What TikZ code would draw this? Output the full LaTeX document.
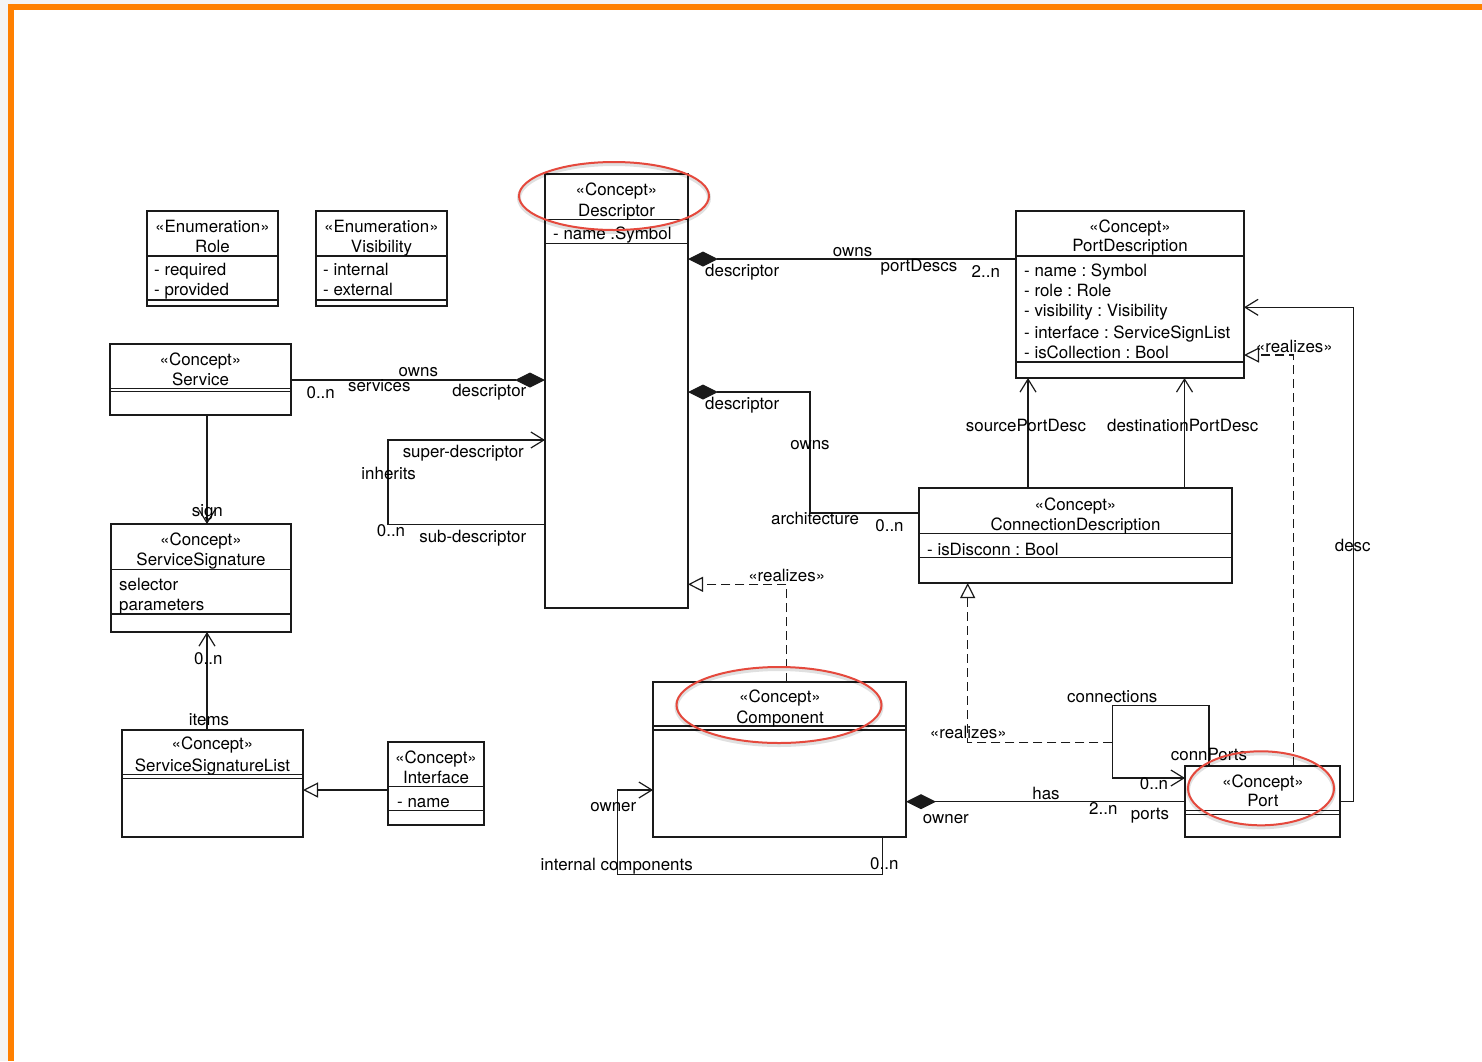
\documentclass[tikz,border=0pt]{standalone}
\usepackage{fontspec}
\setmainfont{TeX Gyre Heros}
\usetikzlibrary{arrows.meta}
\definecolor{orangeb}{HTML}{FF8000}
\definecolor{grayb}{HTML}{F4F4F4}
\definecolor{ered}{HTML}{E5493D}
\definecolor{ink}{HTML}{1A1A1A}
\frenchspacing
\begin{document}
\begin{tikzpicture}[x=1pt,y=-1pt,
  every node/.style={font=\fontsize{16.9}{20}\selectfont\frenchspacing, text=black},
  box/.style={draw=ink, line width=1.2pt, anchor=north west, inner sep=0pt, outer sep=0pt},
  divl/.style={draw=ink, line width=1.2pt},
  t/.style={inner sep=0pt, anchor=mid, yshift=-3.3pt},
  tl/.style={inner sep=0pt, anchor=mid west, yshift=-3.3pt},
  conn/.style={draw=ink, line width=1.2pt},
  rdashed/.style={conn, dash pattern=on 9pt off 5pt},
  openarr/.style={-{Straight Barb[length=13pt,width=16pt]}},
  gen/.style={-{Triangle[open,length=15pt,width=15pt,fill=white]}},
  compo/.style={{Diamond[length=30pt,width=15pt,fill=ink]}-},
  hl/.style={draw=ered, line width=2pt},
  hlshadow/.style={draw=black, opacity=0.12, line width=4pt},
]
\useasboundingbox (0,0) rectangle (1482,1061);
% background and frame
\fill[white] (0,0) rectangle (1482,1061);
\fill[grayb] (0,0) rectangle (8,1061);
\fill[grayb] (0,0) rectangle (1482,4);
\fill[orangeb] (8,4) rectangle (14,1061);
\fill[orangeb] (8,4) rectangle (1482,10);

% ---------- Role
\node[box, minimum width=131pt, minimum height=95pt] (role) at (147,211) {};
\draw[divl] (147,256) -- (278,256);
\draw[divl] (147,300) -- (278,300);
\node[t] (roleS) at (212.5,226.7) {«Enumeration»};
\node[t] (roleN) at (212.5,246.7) {Role};
\node[tl] (roleA) at (154,270) {- required};
\node[tl] (roleB) at (154,290) {- provided};

% ---------- Visibility
\node[box, minimum width=131pt, minimum height=95pt] (vis) at (316,211) {};
\draw[divl] (316,256) -- (447,256);
\draw[divl] (316,300) -- (447,300);
\node[t] (visS) at (381.5,226.7) {«Enumeration»};
\node[t] (visN) at (381.5,246.7) {Visibility};
\node[tl] (visA) at (323,270) {- internal};
\node[tl] (visB) at (323,290) {- external};

% ---------- Service
\node[box, minimum width=181pt, minimum height=71pt] (serv) at (110,344) {};
\draw[divl] (110,388.3) -- (291,388.3);
\draw[divl] (110,391.7) -- (291,391.7);
\node[t] (servS) at (200.5,359.3) {«Concept»};
\node[t] (servN) at (200.5,379.3) {Service};

% ---------- Descriptor
\node[box, minimum width=143pt, minimum height=434pt] (desc) at (545,174) {};
\draw[divl] (545,219.3) -- (688,219.3);
\draw[divl] (545,243.3) -- (688,243.3);
\node[t] (descS) at (616.5,190) {«Concept»};
\node[t] (descN) at (616.5,210.7) {Descriptor};
\node[tl] (descA) at (553,234) {- name .Symbol};

% ---------- PortDescription
\node[box, minimum width=228pt, minimum height=167pt] (pd) at (1016,211) {};
\draw[divl] (1016,256) -- (1244,256);
\draw[divl] (1016,362) -- (1244,362);
\node[t] (pdS) at (1130,226.7) {«Concept»};
\node[t] (pdN) at (1130,246) {PortDescription};
\node[tl] (pdA) at (1024,270.7) {- name : Symbol};
\node[tl] (pdB) at (1024,291) {- role : Role};
\node[tl] (pdC) at (1024,311) {- visibility : Visibility};
\node[tl] (pdD) at (1024,332.3) {- interface : ServiceSignList};
\node[tl] (pdE) at (1024,352.3) {- isCollection : Bool};

% ---------- ConnectionDescription
\node[box, minimum width=313pt, minimum height=95pt] (cd) at (919,488) {};
\draw[divl] (919,533.3) -- (1232,533.3);
\draw[divl] (919,557.7) -- (1232,557.7);
\node[t] (cdS) at (1075.5,504.3) {«Concept»};
\node[t] (cdN) at (1075.5,525) {ConnectionDescription};
\node[tl] (cdA) at (927,549.3) {- isDisconn : Bool};

% ---------- ServiceSignature
\node[box, minimum width=180pt, minimum height=108pt] (ss) at (111,524) {};
\draw[divl] (111,569.3) -- (291,569.3);
\draw[divl] (111,614) -- (291,614);
\node[t] (ssS) at (201,539.3) {«Concept»};
\node[t] (ssN) at (201,560) {ServiceSignature};
\node[tl] (ssA) at (119,584.3) {selector};
\node[tl] (ssB) at (119,604.3) {parameters};

% ---------- ServiceSignatureList
\node[box, minimum width=181pt, minimum height=107pt] (ssl) at (122,730) {};
\draw[divl] (122,774.7) -- (303,774.7);
\draw[divl] (122,778.3) -- (303,778.3);
\node[t] (sslS) at (212.5,744) {«Concept»};
\node[t] (sslN) at (212.5,765.3) {ServiceSignatureList};

% ---------- Interface
\node[box, minimum width=96pt, minimum height=83pt] (iface) at (388,742) {};
\draw[divl] (388,786.7) -- (484,786.7);
\draw[divl] (388,810.7) -- (484,810.7);
\node[t] (ifS) at (436,757.3) {«Concept»};
\node[t] (ifN) at (436,777.3) {Interface};
\node[tl] (ifA) at (397,801.7) {- name};

% ---------- Component
\node[box, minimum width=253pt, minimum height=155pt] (comp) at (653,682) {};
\draw[divl] (653,726) -- (906,726);
\draw[divl] (653,730) -- (906,730);
\node[t] (compS) at (780,696.7) {«Concept»};
\node[t] (compN) at (780,717.3) {Component};

% ---------- Port
\node[box, minimum width=155pt, minimum height=71pt] (port) at (1185,766) {};
\draw[divl] (1185,810.7) -- (1340,810.7);
\draw[divl] (1185,814.3) -- (1340,814.3);
\node[t] (portS) at (1263,781.7) {«Concept»};
\node[t] (portN) at (1263,801) {Port};

% ================= connectors
% Service -- Descriptor (owns)
\draw[conn, compo] (desc.west |- 0,380) -- (serv.east |- 0,380);
\node[t] (l1) at (418.3,370.7) {owns};
\node[t] (l2) at (379.3,386) {services};
\node[t] (l3) at (320.7,392.3) {0..n};
\node[t] (l4) at (489.3,391) {descriptor};

% Descriptor -- PortDescription
\draw[conn, compo] (desc.east |- 0,259) -- (pd.west |- 0,259);
\node[t] (l5) at (852.6,250.7) {owns};
\node[t] (l6) at (919,265.3) {portDescs};
\node[t] (l7) at (985.8,271.7) {2..n};
\node[tl] (l8) at (705,270.7) {descriptor};

% Descriptor -- ConnectionDescription
\draw[conn, compo] (desc.east |- 0,392) -| (810,513) -- (cd.west |- 0,513);
\node[tl] (l9) at (705,403.3) {descriptor};
\node[t] (l10) at (810,443.3) {owns};
\node[t] (l11) at (815,518.3) {architecture};
\node[t] (l12) at (889.5,526) {0..n};

% inherits self loop
\draw[conn, openarr] (desc.west |- 0,524.3) -| (388,440) -- (desc.west |- 0,440);
\node[t] (l13) at (463.3,451.7) {super-descriptor};
\node[t] (l14) at (388.7,473.3) {inherits};
\node[t] (l15) at (391,531) {0..n};
\node[t] (l16) at (472.7,536.7) {sub-descriptor};

% Service -> ServiceSignature
\draw[conn, openarr] (serv.south -| 207,0) -- (ss.north -| 207,0);
\node[t] (l17) at (207.3,510.7) {sign};

% ServiceSignatureList -> ServiceSignature
\draw[conn, openarr] (ssl.north -| 207,0) -- (ss.south -| 207,0);
\node[t] (l18) at (208.3,658.7) {0..n};
\node[t] (l19) at (209,719.3) {items};

% Interface -> ServiceSignatureList
\draw[conn, gen] (iface.west |- 0,790) -- (ssl.east |- 0,790);

% Component realizes Descriptor
\draw[rdashed, gen] (comp.north -| 786.7,0) |- (desc.east |- 0,584.3);
\node[t] (l20) at (786.7,575.3) {«realizes»};

% ConnectionDescription -> PortDescription
\draw[conn, openarr] (cd.north -| 1028,0) -- (pd.south -| 1028,0);
\draw[conn, openarr] (cd.north -| 1184.5,0) -- (pd.south -| 1184.5,0);
\node[t] (l21) at (1026,425.3) {sourcePortDesc};
\node[t] (l22) at (1182.7,425.3) {destinationPortDesc};

% Port -> PortDescription (desc)
\draw[conn, openarr] (port.east |- 0,801.7) -| (1353.3,307.3) -- (pd.east |- 0,307.3);
\node[t] (l23) at (1352.7,545.7) {desc};

% Port realizes PortDescription
\draw[rdashed, gen] (port.north -| 1293.3,0) |- (pd.east |- 0,355);
\node[t] (l24) at (1294.3,346.7) {«realizes»};

% Component -- Port (has)
\draw[conn, compo] (comp.east |- 0,801.7) -- (port.west |- 0,801.7);
\node[t] (l25) at (1046,793.3) {has};
\node[t] (l26) at (1103.3,808.3) {2..n};
\node[t] (l27) at (1150,813.3) {ports};
\node[tl] (l28) at (922.7,817.7) {owner};

% Component self loop
\draw[conn, openarr] (comp.south -| 882.7,0) |- (617.3,874.3) |- (comp.west |- 0,790);
\node[t] (l29) at (613.3,805.7) {owner};
\node[t] (l30) at (616.7,865) {internal components};
\node[t] (l31) at (884.3,863.3) {0..n};

% Port self loop (connections)
\draw[conn, openarr] (port.north -| 1209,0) |- (1112.3,705.7) |- (port.west |- 0,778);
\coordinate (cj) at (1112.3,742.3);
\node[t] (l32) at (1112.3,696.7) {connections};
\node[t] (l33) at (1209,755) {connPorts};
\node[t] (l34) at (1154,784) {0..n};

% connections realizes ConnectionDescription
\draw[rdashed, gen] (cj) -| (cd.south -| 967.7,0);
\node[t] (l35) at (968.3,732.7) {«realizes»};

% ================= highlight ellipses
\draw[hlshadow] (614,198) ellipse [x radius=95pt, y radius=34pt];
\draw[hl] (614,196) ellipse [x radius=95pt, y radius=34pt];
\draw[hlshadow] (779,707) ellipse [x radius=102.5pt, y radius=38pt];
\draw[hl] (779,705) ellipse [x radius=102.5pt, y radius=38pt];
\draw[hlshadow] (1261,790.3) ellipse [x radius=73pt, y radius=37pt];
\draw[hl] (1261,788.3) ellipse [x radius=73pt, y radius=37pt];
\end{tikzpicture}
\end{document}
